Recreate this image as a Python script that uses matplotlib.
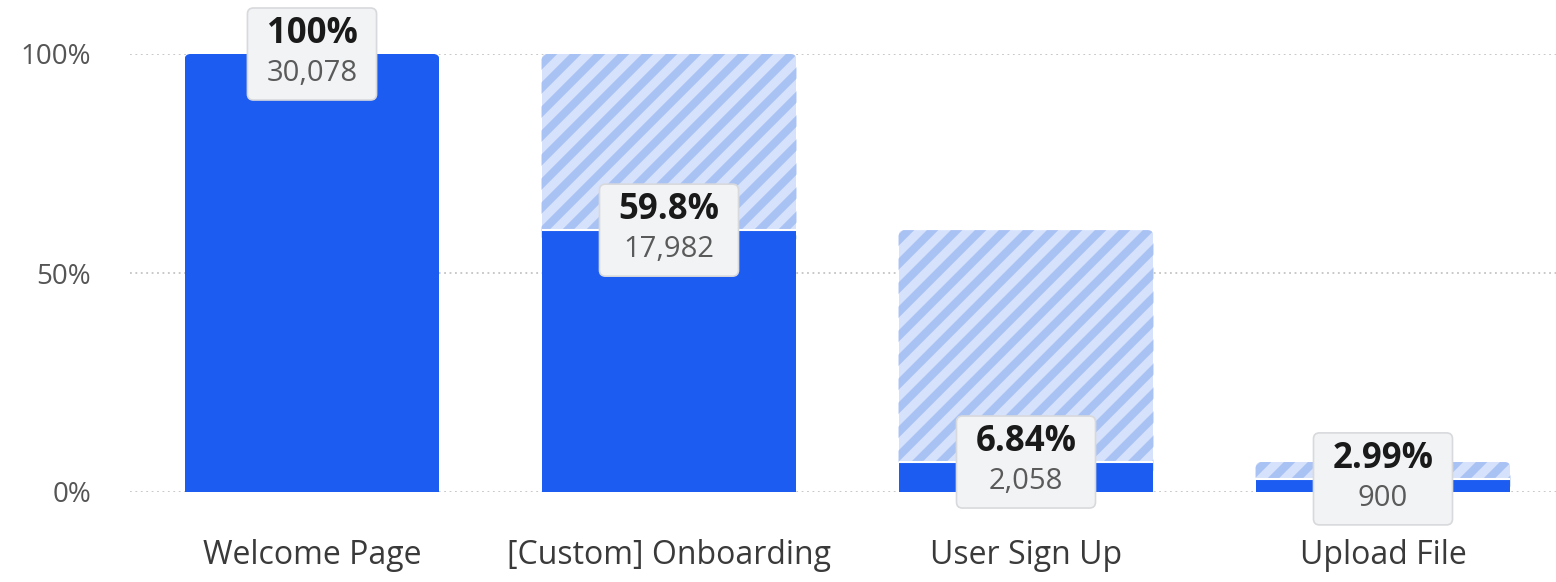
import matplotlib
matplotlib.use("Agg")
import matplotlib.pyplot as plt
import matplotlib.transforms as mtransforms
from matplotlib.patches import FancyBboxPatch
from matplotlib.collections import LineCollection
import numpy as np

# ---- data ----
steps = ["Welcome Page", "[Custom] Onboarding", "User Sign Up", "Upload File"]
counts = [30078, 17982, 2058, 900]
pct_labels = ["100%", "59.8%", "6.84%", "2.99%"]
yticks = [0, 50, 100]
ytick_labels = ["0%", "50%", "100%"]

pct = [c / counts[0] * 100 for c in counts]
prev = [pct[0]] + pct[:-1]
drop = [p - v for p, v in zip(prev, pct)]

plt.rcParams['font.family'] = ['Open Sans', 'DejaVu Sans']

W, H = 1556, 582
fig = plt.figure(figsize=(W / 100, H / 100), dpi=100)
ax = fig.add_axes([130 / W, (H - 492) / H, (W - 130) / W, 438 / H])
x = np.arange(len(steps))
ax.set_xlim(-0.5098, 3.4846)
ax.set_ylim(0, 100)

for s in ax.spines.values():
    s.set_visible(False)
ax.set_yticks(yticks, ytick_labels)
ax.set_xticks(x, steps)
ax.tick_params(axis='y', length=0, pad=28, labelsize=20, labelcolor='#555555')
ax.tick_params(axis='x', length=0, pad=34, labelsize=23, labelcolor='#3a3a3a')
ax.yaxis.grid(True, linestyle=(0, (1, 2)), color='#c4c4c4', linewidth=1.3)
ax.set_axisbelow(True)

BLUE = '#1d5cf0'
LIGHT = '#d6e1fb'
STRIPE = '#a9c2f4'
bw = 0.714

hatched = ax.bar(x, drop, bottom=pct, width=bw, color=LIGHT, linewidth=0, zorder=2)
solid = ax.bar(x, pct, width=bw, color=BLUE, linewidth=0, zorder=4)

ident = mtransforms.IdentityTransform()
for i in x:
    (px0, py0) = ax.transData.transform((i - bw / 2, 0))
    (px1, pyt) = ax.transData.transform((i + bw / 2, prev[i]))
    (_, pyj) = ax.transData.transform((i, pct[i]))
    clip = FancyBboxPatch((px0, py0 - 20), px1 - px0, pyt - py0 + 20,
                          boxstyle="round,pad=0,rounding_size=6", transform=ident)
    solid[i].set_clip_path(clip)
    hatched[i].set_clip_path(clip)
    if drop[i] > 0:
        h = pyt - pyj
        period = 24
        segs = []
        c = px0 - h - period
        while c < px1 + period:
            segs.append([(c, pyj - 10), (c + h + 20, pyt + 10)])
            c += period
        lc = LineCollection(segs, colors=STRIPE, linewidths=5.8, transform=ident, zorder=3)
        ax.add_collection(lc, autolim=False)
        lc.set_clip_path(clip)
        ax.plot([i - bw / 2, i + bw / 2], [pct[i], pct[i]], color='white', lw=1.5,
                zorder=5, solid_capstyle='butt')

# ---- label boxes ----
fig.canvas.draw()
renderer = fig.canvas.get_renderer()
for i in x:
    t1 = ax.annotate(pct_labels[i], (i, pct[i]), xytext=(0, 14.5), textcoords='offset points',
                     ha='center', va='center', fontsize=25, fontweight='bold',
                     color='#1a1a1a', zorder=8, annotation_clip=False)
    t2 = ax.annotate(f"{counts[i]:,}", (i, pct[i]), xytext=(0, -14), textcoords='offset points',
                     ha='center', va='center', fontsize=21, color='#5a5a5a',
                     zorder=8, annotation_clip=False)
    w1 = t1.get_window_extent(renderer).width
    w2 = t2.get_window_extent(renderer).width
    bwid = max(w1, w2) + 38
    cx, cy = ax.transData.transform((i, pct[i]))
    box = FancyBboxPatch((cx - bwid / 2, cy - 46), bwid, 92,
                         boxstyle="round,pad=0,rounding_size=6", transform=ident,
                         facecolor='#f2f3f5', edgecolor='#d8d9dc', linewidth=1.2, zorder=7)
    ax.add_artist(box)
    box.set_clip_on(False)

fig.savefig("out.png", dpi=100)
